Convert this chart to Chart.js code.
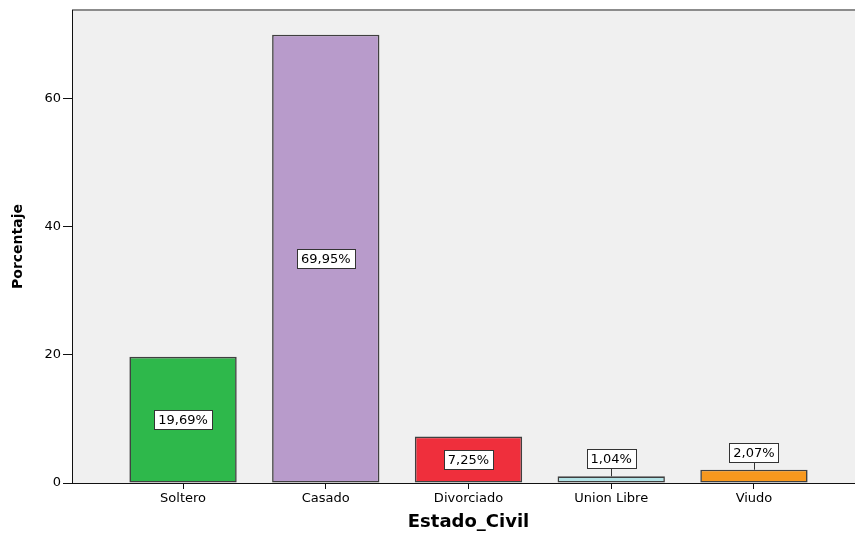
<!DOCTYPE html>
<html>
<head>
<meta charset="utf-8">
<script src="https://cdn.jsdelivr.net/npm/chart.js@4/dist/chart.umd.min.js"></script>
<style>
  html, body { margin: 0; padding: 0; overflow: hidden; background: #ffffff; }
  #wrap { position: relative; width: 865px; height: 534px; }
</style>
</head>
<body>
<div id="wrap"><canvas id="chart"></canvas></div>
<script>
// Estado civil de los encuestados (porcentaje)
const categories = ['Soltero', 'Casado', 'Divorciado', 'Union Libre', 'Viudo'];
const percentages = [19.69, 69.95, 7.25, 1.04, 2.07];
const yTicks = [0, 20, 40, 60];

const barColors = ['#2eb84b', '#b89bcb', '#ef2f3c', '#b3e3e6', '#f7981e'];
const FONT = '"DejaVu Sans", "Liberation Sans", Arial, sans-serif';

const fmt = v => v.toFixed(2).replace('.', ',') + '%';

// Plot background and frame
const framePlugin = {
  id: 'frame',
  beforeDraw(chart) {
    const { ctx, chartArea: a } = chart;
    ctx.save();
    ctx.fillStyle = '#f0f0f0';
    ctx.fillRect(a.left, a.top, a.right - a.left, a.bottom - a.top);
    ctx.strokeStyle = '#8c8c8c';
    ctx.lineWidth = 2;
    ctx.beginPath();
    ctx.moveTo(a.left, a.top);
    ctx.lineTo(a.right, a.top);
    ctx.lineTo(a.right, a.bottom);
    ctx.stroke();
    ctx.restore();
  }
};

// Boxed percentage labels: centred inside tall bars, above short bars with a leader line
const valueLabels = {
  id: 'valueLabels',
  afterDatasetsDraw(chart) {
    const { ctx } = chart;
    const meta = chart.getDatasetMeta(0);
    ctx.save();
    ctx.font = '13px ' + FONT;
    ctx.textAlign = 'center';
    ctx.textBaseline = 'middle';
    meta.data.forEach((bar, i) => {
      const txt = fmt(percentages[i]);
      const w = Math.round(ctx.measureText(txt).width) + 8;
      const h = 19;
      const barH = bar.base - bar.y;
      let cy;
      if (barH > h + 16) {
        cy = (bar.y + bar.base) / 2;
      } else {
        cy = bar.y - 8 - h / 2;
        ctx.strokeStyle = '#333333';
        ctx.lineWidth = 1;
        ctx.beginPath();
        ctx.moveTo(Math.round(bar.x) + 0.5, bar.y);
        ctx.lineTo(Math.round(bar.x) + 0.5, cy + h / 2);
        ctx.stroke();
      }
      const bx = Math.round(bar.x - w / 2) + 0.5;
      const by = Math.round(cy - h / 2) + 0.5;
      ctx.fillStyle = '#ffffff';
      ctx.fillRect(bx, by, w, h);
      ctx.strokeStyle = '#333333';
      ctx.lineWidth = 1;
      ctx.strokeRect(bx, by, w, h);
      ctx.fillStyle = '#000000';
      ctx.fillText(txt, bar.x, cy + 1);
    });
    ctx.restore();
  }
};

new Chart(document.getElementById('chart'), {
  type: 'bar',
  data: {
    datasets: [{
      data: percentages.map((v, i) => ({ x: i, y: v })),
      backgroundColor: barColors,
      borderColor: '#404040',
      borderWidth: 1.6,
      borderSkipped: false,
      barPercentage: 0.752,
      categoryPercentage: 1
    }]
  },
  options: {
    responsive: true,
    maintainAspectRatio: false,
    animation: false,
    devicePixelRatio: 1,
    layout: { padding: { top: 10, right: 0, left: 0, bottom: 0 } },
    plugins: { legend: { display: false }, tooltip: { enabled: false } },
    scales: {
      x: {
        type: 'linear',
        offset: false,
        min: -0.778,
        max: categories.length - 1 + 0.778,
        afterBuildTicks(scale) { scale.ticks = categories.map((c, i) => ({ value: i })); },
        afterFit(scale) { scale.height = 51; },
        ticks: {
          callback: v => categories[v],
          font: { family: FONT, size: 13 },
          color: '#000000',
          padding: 2,
          maxRotation: 0,
          autoSkip: false
        },
        grid: { offset: false, drawOnChartArea: false, drawTicks: true, tickLength: 6, color: '#111111', lineWidth: 1 },
        border: { display: true, color: '#111111', width: 1 },
        title: {
          display: true,
          text: 'Estado_Civil',
          font: { family: FONT, size: 18, weight: 'bold' },
          color: '#000000',
          padding: { top: 0, bottom: 1 }
        }
      },
      y: {
        min: 0,
        max: 73.8,
        afterBuildTicks(scale) { scale.ticks = yTicks.map(v => ({ value: v })); },
        afterFit(scale) { scale.width = 72; },
        ticks: {
          font: { family: FONT, size: 13 },
          color: '#000000',
          padding: 2
        },
        grid: { drawOnChartArea: false, drawTicks: true, tickLength: 9, color: '#111111', lineWidth: 1 },
        border: { display: true, color: '#111111', width: 1 },
        title: {
          display: true,
          text: 'Porcentaje',
          font: { family: FONT, size: 14, weight: 'bold' },
          color: '#000000',
          padding: { top: 10, bottom: 0 }
        }
      }
    }
  },
  plugins: [framePlugin, valueLabels]
});
</script>
</body>
</html>
